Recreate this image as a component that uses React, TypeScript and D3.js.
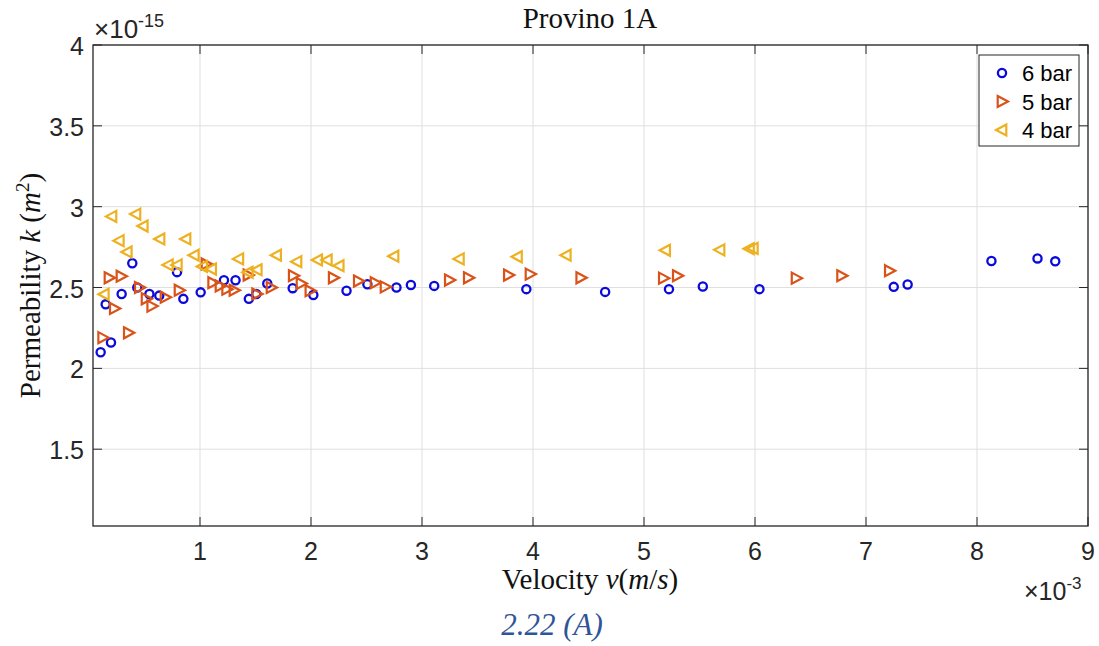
import React from "react";
import * as d3 from "d3";

const v6 = [0.105,0.15,0.198,0.294,0.39,0.435,0.544,0.633,0.793,0.85,1.006,1.216,1.32,1.44,1.507,1.606,1.835,2.021,2.32,2.508,2.77,2.90,3.11,3.94,4.65,5.225,5.53,6.04,7.25,7.375,8.13,8.545,8.705];
const k6 = [2.10,2.396,2.16,2.46,2.65,2.50,2.46,2.45,2.595,2.43,2.47,2.545,2.545,2.43,2.46,2.525,2.496,2.454,2.48,2.52,2.50,2.516,2.51,2.49,2.473,2.49,2.506,2.49,2.504,2.519,2.664,2.68,2.662];

const v5 = [0.123,0.18,0.228,0.288,0.354,0.453,0.514,0.565,0.685,0.811,1.054,1.114,1.18,1.24,1.306,1.432,1.51,1.64,1.84,1.91,1.99,2.20,2.426,2.577,2.667,3.246,3.417,3.778,3.973,4.43,5.174,5.30,6.37,6.78,7.21];
const k5 = [2.19,2.56,2.37,2.57,2.22,2.50,2.43,2.385,2.44,2.483,2.646,2.53,2.51,2.49,2.483,2.577,2.46,2.50,2.573,2.525,2.48,2.56,2.54,2.53,2.504,2.546,2.56,2.577,2.583,2.56,2.558,2.573,2.558,2.573,2.604];

const v4 = [0.138,0.207,0.273,0.345,0.423,0.489,0.64,0.715,0.796,0.874,0.949,1.024,1.105,1.35,1.435,1.516,1.69,1.874,2.06,2.147,2.254,2.748,3.337,3.86,4.30,5.195,5.685,5.95,5.985];
const k4 = [2.458,2.94,2.79,2.72,2.954,2.88,2.80,2.64,2.64,2.80,2.70,2.63,2.614,2.677,2.594,2.61,2.70,2.66,2.67,2.67,2.635,2.694,2.677,2.69,2.70,2.73,2.733,2.74,2.742];

const xTicks = [1, 2, 3, 4, 5, 6, 7, 8, 9];
const yTicks = [1.5, 2, 2.5, 3, 3.5, 4];
const seriesNames = ["6 bar", "5 bar", "4 bar"];

const W = 1099, H = 646;
const L = 93, R = 1088, T = 45, B = 526;

const x = d3.scaleLinear().domain([0.036, 9]).range([L, R]);
const y = d3.scaleLinear().domain([1.025, 4]).range([B, T]);

const C6 = "#0a0adc";
const C5 = "#D95319";
const C4 = "#EDB120";
const AX = "#262626";
const GRID = "#dfdfdf";

const rightTri = "M-4.3,-5.5L6,0L-4.3,5.5Z";
const leftTri = "M4.3,-5.5L-6,0L4.3,5.5Z";

function Marker({ kind, cx, cy }: { kind: number; cx: number; cy: number }) {
  if (kind === 0) return <circle cx={cx} cy={cy} r={4.1} fill="none" stroke={C6} strokeWidth={2.3} />;
  if (kind === 1) return <path d={rightTri} transform={`translate(${cx},${cy})`} fill="none" stroke={C5} strokeWidth={2.2} strokeLinejoin="miter" />;
  return <path d={leftTri} transform={`translate(${cx},${cy})`} fill="none" stroke={C4} strokeWidth={2.2} strokeLinejoin="miter" />;
}

export default function App() {
  const sans = "'Liberation Sans', Arial, sans-serif";
  const serif = "'Liberation Serif', 'Times New Roman', serif";
  const series = [
    { v: v6, k: k6 },
    { v: v5, k: k5 },
    { v: v4, k: k4 },
  ];
  return (
    <svg width={W} height={H} style={{ position: "absolute", left: 0, top: 0, background: "#fff" }}>
      <rect x={0} y={0} width={W} height={H} fill="#fff" />
      {xTicks.map((t) => (
        <line key={"gx" + t} x1={x(t)} x2={x(t)} y1={T} y2={B} stroke={GRID} strokeWidth={1} />
      ))}
      {yTicks.map((t) => (
        <line key={"gy" + t} x1={L} x2={R} y1={y(t)} y2={y(t)} stroke={GRID} strokeWidth={1} />
      ))}
      {series.map((s, si) =>
        s.v.map((vv, i) => <Marker key={si + "-" + i} kind={si} cx={x(vv)} cy={y(s.k[i])} />)
      )}
      <rect x={L} y={T} width={R - L} height={B - T} fill="none" stroke={AX} strokeWidth={1.3} />
      {xTicks.map((t) => (
        <g key={"tx" + t}>
          <line x1={x(t)} x2={x(t)} y1={B} y2={B - 9} stroke={AX} />
          <line x1={x(t)} x2={x(t)} y1={T} y2={T + 9} stroke={AX} />
          <text x={x(t)} y={560} textAnchor="middle" fontFamily={sans} fontSize={25} fill={AX}>{t}</text>
        </g>
      ))}
      {yTicks.map((t) => (
        <g key={"ty" + t}>
          <line x1={L} x2={L + 9} y1={y(t)} y2={y(t)} stroke={AX} />
          <line x1={R} x2={R - 9} y1={y(t)} y2={y(t)} stroke={AX} />
          <text x={84} y={y(t) + 10} textAnchor="end" fontFamily={sans} fontSize={25} fill={AX}>{t}</text>
        </g>
      ))}
      <text x={94} y={38} fontFamily={sans} fontSize={26} fill={AX}>
        ×10<tspan dy={-11} fontSize={18}>-15</tspan>
      </text>
      <text x={1024} y={600} fontFamily={sans} fontSize={25} fill={AX}>
        ×10<tspan dy={-11} fontSize={17}>-3</tspan>
      </text>
      <text x={590} y={28} textAnchor="middle" fontFamily={serif} fontSize={29} fill="#111">Provino 1A</text>
      <text x={590} y={589} textAnchor="middle" fontFamily={serif} fontSize={29} fill="#111">
        Velocity <tspan fontStyle="italic">v</tspan>(<tspan fontStyle="italic">m</tspan>/<tspan fontStyle="italic">s</tspan>)
      </text>
      <text transform={`translate(40,${(T + B) / 2}) rotate(-90)`} textAnchor="middle" fontFamily={serif} fontSize={29} fill="#111">
        Permeability <tspan fontStyle="italic">k</tspan> (<tspan fontStyle="italic">m</tspan><tspan dy={-11} fontSize={19}>2</tspan><tspan dy={11}>)</tspan>
      </text>
      <text x={552} y={635} textAnchor="middle" fontFamily={serif} fontStyle="italic" fontSize={31} fill="#2F5597">2.22 (A)</text>
      <rect x={979} y={55} width={100} height={91} fill="#fff" stroke={AX} strokeWidth={1} />
      {seriesNames.map((n, i) => (
        <g key={n}>
          <Marker kind={i} cx={1002} cy={73 + i * 28.5} />
          <text x={1022} y={73 + i * 28.5 + 8} fontFamily={sans} fontSize={22} fill="#000">{n}</text>
        </g>
      ))}
    </svg>
  );
}
